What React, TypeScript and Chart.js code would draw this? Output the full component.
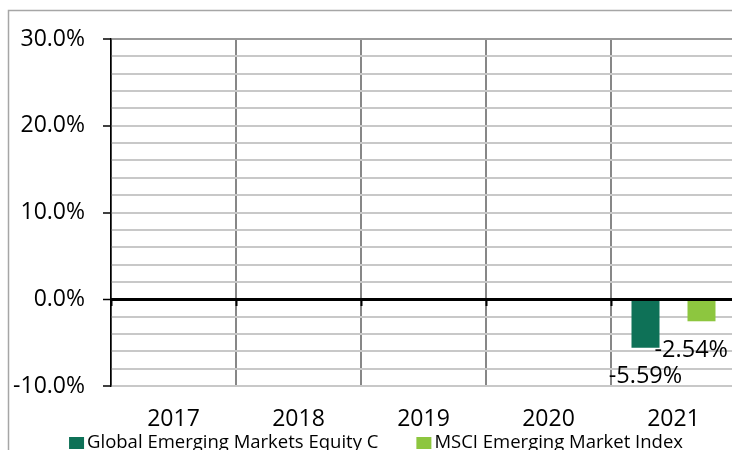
import React, { useEffect, useRef } from 'react';
import { Chart, registerables } from 'chart.js';

Chart.register(...registerables);

// ---- data ----
const years = ['2017', '2018', '2019', '2020', '2021'];
const fundName = 'Global Emerging Markets Equity C';
const indexName = 'MSCI Emerging Market Index';
const fundReturns: (number | null)[] = [null, null, null, null, -5.59];
const indexReturns: (number | null)[] = [null, null, null, null, -2.54];
const yMin = -10;
const yMax = 30;
const yMinorStep = 2;
const yLabelStep = 10;

// ---- style ----
const fundColor = '#0E7157';
const indexColor = '#8DC63F';
const FONT = "'Open Sans', 'Noto Sans', sans-serif";
const W = 760;
const H = 460;
const PLOT_LEFT = 111;
const PLOT_TOP = 39;
const PLOT_BOTTOM = 386;
const PLOT_RIGHT = 736;

const framePlugin = {
  id: 'frame',
  beforeDraw(chart: any) {
    const ctx = chart.ctx;
    ctx.save();
    ctx.fillStyle = '#ffffff';
    ctx.fillRect(0, 0, chart.width, chart.height);
    ctx.strokeStyle = '#a6a6a6';
    ctx.lineWidth = 1.5;
    ctx.strokeRect(8.5, 10.5, chart.width + 20, chart.height + 20);
    ctx.restore();
  },
};

const valueLabelPlugin = {
  id: 'valueLabels',
  afterDatasetsDraw(chart: any) {
    const ctx = chart.ctx;
    ctx.save();
    ctx.font = `23.5px ${FONT}`;
    ctx.fillStyle = '#000';
    ctx.textAlign = 'center';
    ctx.textBaseline = 'middle';
    chart.data.datasets.forEach((ds: any, di: number) => {
      const meta = chart.getDatasetMeta(di);
      meta.data.forEach((el: any, i: number) => {
        const v = ds.data[i];
        if (v === null || v === undefined) return;
        const text = v.toFixed(2) + '%';
        const w = ctx.measureText(text).width;
        const x = Math.min(el.x, 728 - w / 2);
        const y = el.y + (v < 0 ? 29 : -29);
        ctx.fillText(text, x, y);
      });
    });
    ctx.restore();
  },
};

const legendPlugin = {
  id: 'customLegend',
  afterDraw(chart: any) {
    const ctx = chart.ctx;
    ctx.save();
    ctx.font = `18.5px ${FONT}`;
    ctx.textBaseline = 'alphabetic';
    ctx.textAlign = 'left';
    const items = chart.data.datasets.map((ds: any) => ({
      text: ds.label,
      color: ds.backgroundColor,
      w: ctx.measureText(ds.label).width,
    }));
    const box = 15;
    const gap = 3;
    const between = 38;
    const total =
      items.reduce((s: number, it: any) => s + box + gap + it.w, 0) + between * (items.length - 1);
    let x = 376 - total / 2;
    items.forEach((it: any) => {
      ctx.fillStyle = it.color;
      ctx.fillRect(x, 437, box, 12);
      ctx.fillStyle = '#000';
      ctx.fillText(it.text, x + box + gap, 448);
      x += box + gap + it.w + between;
    });
    ctx.restore();
  },
};

export default function App() {
  const ref = useRef<HTMLCanvasElement>(null);

  useEffect(() => {
    if (!ref.current) return;
    const chart = new Chart(ref.current, {
      type: 'bar',
      data: {
        labels: years,
        datasets: [
          {
            label: fundName,
            data: fundReturns,
            backgroundColor: fundColor,
            barPercentage: 0.5,
            categoryPercentage: 0.896,
            xAxisID: 'x',
            yAxisID: 'y',
          },
          {
            label: indexName,
            data: indexReturns,
            backgroundColor: indexColor,
            barPercentage: 0.5,
            categoryPercentage: 0.896,
            xAxisID: 'x',
            yAxisID: 'y',
          },
        ],
      },
      options: {
        responsive: false,
        animation: false,
        devicePixelRatio: 1,
        layout: { padding: { left: 0, top: PLOT_TOP, right: W - PLOT_RIGHT, bottom: 0 } },
        plugins: { legend: { display: false }, tooltip: { enabled: false } },
        scales: {
          x: {
            type: 'category',
            position: 'bottom',
            offset: true,
            grid: { offset: true, color: '#878787', lineWidth: 2, drawTicks: false },
            border: { display: false },
            ticks: { font: { family: FONT, size: 23 }, color: '#000', padding: 20, maxRotation: 0 },
            afterFit(scale: any) {
              scale.height = H - PLOT_BOTTOM;
            },
          },
          x2: {
            type: 'category',
            position: { y: 0 },
            offset: true,
            grid: {
              offset: true,
              drawOnChartArea: false,
              drawTicks: true,
              tickLength: 5,
              tickColor: '#000',
              tickWidth: 2,
              z: 1,
            },
            border: { display: true, color: '#000', width: 3, z: 1 },
            ticks: { display: false },
          },
          y: {
            type: 'linear',
            position: 'left',
            min: yMin,
            max: yMax,
            ticks: {
              stepSize: yMinorStep,
              autoSkip: false,
              font: { family: FONT, size: 23 },
              color: '#000',
              padding: 18,
              callback: (v: any) => (Number(v) % yLabelStep === 0 ? Number(v).toFixed(1) + '%' : ''),
            },
            grid: {
              color: (c: any) =>
                c.tick && c.tick.value === 0 ? '#000' : c.tick && c.tick.value === yMax ? '#9a9a9a' : '#c8c8c8',
              lineWidth: (c: any) => (c.tick && c.tick.value === 0 ? 3 : 2),
              tickLength: 8,
              tickColor: (c: any) => (c.tick && c.tick.value % yLabelStep === 0 ? '#000' : 'rgba(0,0,0,0)'),
              tickWidth: 1.5,
            },
            border: { display: true, color: '#000', width: 1.5, z: 1 },
            afterFit(scale: any) {
              scale.width = PLOT_LEFT;
            },
          },
        },
      },
      plugins: [framePlugin, valueLabelPlugin, legendPlugin],
    } as any);
    return () => chart.destroy();
  }, []);

  return (
    <div
      style={{
        position: 'fixed',
        left: 0,
        top: 0,
        width: 732,
        height: 450,
        overflow: 'hidden',
        background: '#fff',
      }}
    >
      <canvas ref={ref} width={W} height={H} style={{ display: 'block', width: W, height: H }} />
    </div>
  );
}
